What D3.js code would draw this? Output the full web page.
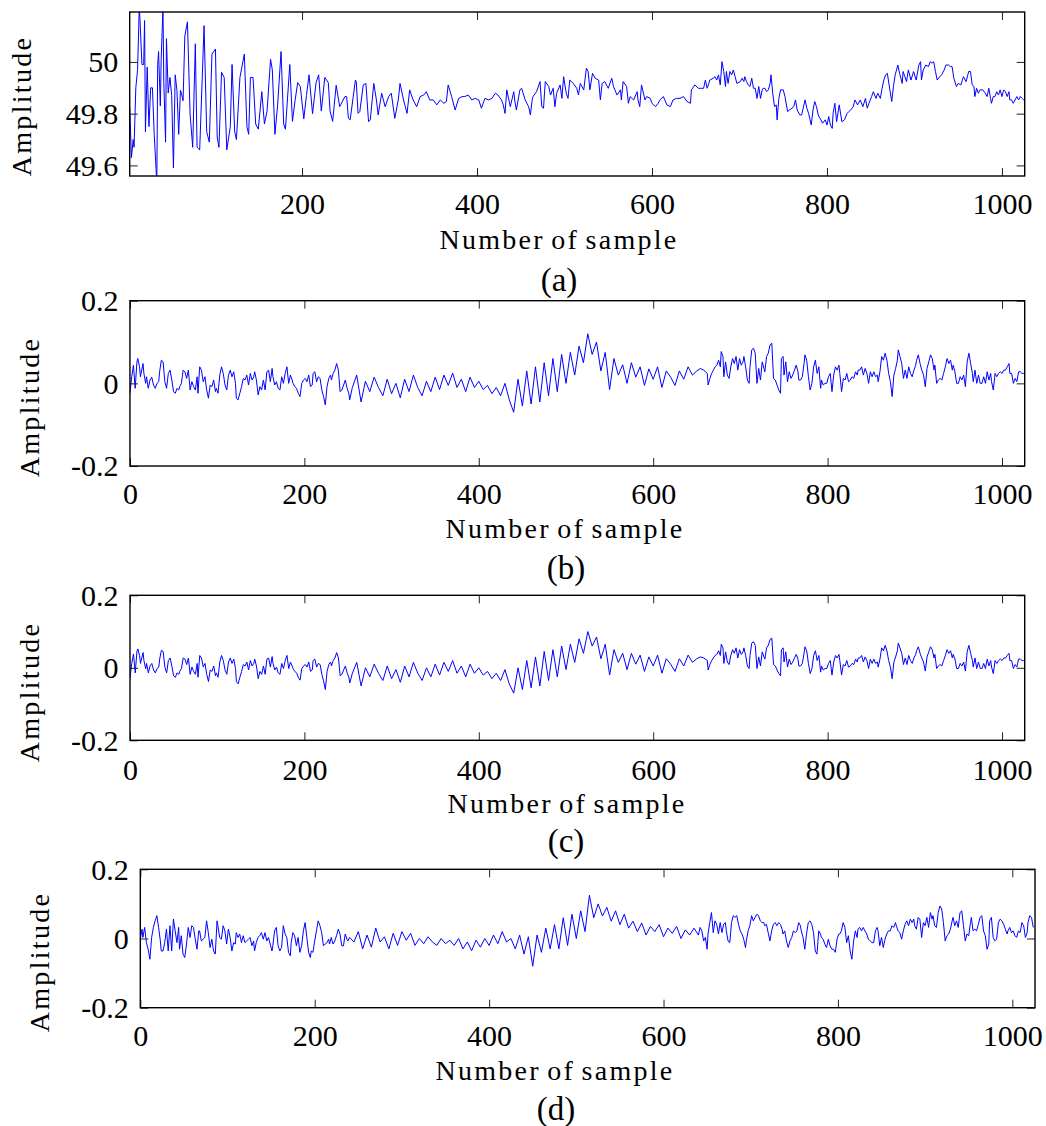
<!DOCTYPE html>
<html>
<head>
<meta charset="utf-8">
<script src="https://cdn.jsdelivr.net/npm/d3@7/dist/d3.min.js"></script>
<style>
  body { margin: 0; background: #fff; }
  svg { display: block; }
</style>
</head>
<body>
<svg id="chart" width="1046" height="1126"></svg>
<script>
// ---------- data (sample number, amplitude) ----------

// (a) samples 3-239: turning points of the decaying oscillation
const aHeadIdx = [3,5,7,8,10,12,14,17,19,20,21,23,25,27,29,31,32,34,35,36,38,39,41,42,44,45,47,49,51,53,55,57,59,61,62,64,66,69,72,75,78,80,83,88,91,94,97,101,103,105,108,111,114,118,120,123,125,129,134,137,139,141,144,147,150,154,157,160,164,166,169,172,176,179,181,186,189,192,195,198,202,205,208,212,216,219,222,226,230,232,235,239];
const aHeadVal = [49.83,49.63,49.70,49.67,49.90,49.97,50.22,49.99,49.99,50.16,49.73,49.98,49.75,49.90,49.90,49.72,49.66,49.53,49.99,50.04,49.83,50.01,50.21,49.92,49.69,50.09,49.88,49.94,49.87,49.59,49.95,49.89,49.72,49.89,49.88,49.85,50.10,50.155,49.80,49.67,50.07,49.67,49.66,50.14,49.73,49.69,50.03,50.05,49.71,49.67,49.96,49.94,49.66,49.75,49.99,49.73,49.70,49.94,50.03,49.75,49.72,49.94,49.94,49.76,49.74,49.885,49.76,49.81,50.01,49.97,49.72,49.83,50.04,49.76,49.74,49.99,49.77,49.85,49.92,49.905,49.78,49.87,49.95,49.80,49.92,49.95,49.81,49.94,49.92,49.81,49.77,49.91];
// (a) samples 243-653
const aMidIdx = [243,249,251,253,255,261,262,264,266,270,273,276,278,282,285,287,291,293,295,299,302,306,310,312,316,320,323,327,331,335,339,342,346,350,354,358,362,365,367,371,375,379,383,386,390,394,398,402,405,409,413,417,421,424,428,430,432,434,438,442,443,445,449,451,455,459,461,463,464,468,472,474,476,478,482,484,487,489,491,495,497,499,502,504,506,510,514,516,518,522,525,527,529,532,535,539,541,543,546,550,554,556,560,564,565,567,571,573,575,579,583,584,586,588,592,594,598,600,604,607,609,613,617,621,624,628,632,636,640,644,645,649,653];
const aMidVal = [49.827,49.866,49.866,49.782,49.776,49.930,49.924,49.801,49.808,49.911,49.917,49.769,49.776,49.917,49.853,49.795,49.879,49.853,49.827,49.866,49.879,49.782,49.853,49.917,49.853,49.801,49.892,49.853,49.827,49.866,49.872,49.885,49.853,49.853,49.834,49.853,49.840,49.847,49.911,49.866,49.814,49.859,49.866,49.866,49.872,49.853,49.859,49.853,49.821,49.859,49.853,49.859,49.879,49.872,49.853,49.834,49.801,49.892,49.827,49.885,49.853,49.814,49.892,49.898,49.853,49.827,49.795,49.853,49.866,49.885,49.924,49.827,49.821,49.924,49.905,49.872,49.898,49.827,49.879,49.911,49.859,49.943,49.879,49.859,49.930,49.917,49.898,49.872,49.917,49.892,49.976,49.963,49.892,49.956,49.937,49.930,49.853,49.917,49.924,49.898,49.937,49.905,49.872,49.892,49.853,49.924,49.905,49.840,49.866,49.853,49.885,49.853,49.827,49.911,49.853,49.866,49.859,49.840,49.827,49.840,49.853,49.866,49.834,49.827,49.853,49.859,49.859,49.866,49.847,49.840,49.892,49.911,49.898];
// (a) samples 655-1025
const aTailIdx = [655,659,661,663,665,666,670,672,674,676,678,680,682,684,685,687,689,691,693,695,697,701,703,705,706,708,710,712,714,716,718,720,722,724,726,727,729,731,733,735,736,738,740,742,743,745,747,750,752,755,757,760,762,764,766,769,771,775,777,779,782,784,786,788,790,793,795,798,800,802,804,806,807,809,811,814,817,820,823,825,827,830,832,835,838,841,844,846,848,851,853,856,858,861,863,865,867,869,871,874,876,878,881,883,886,887,889,891,893,896,899,902,905,907,908,910,913,916,918,920,922,924,926,929,931,934,936,939,941,943,945,948,950,953,956,959,962,964,966,968,969,971,973,975,978,981,983,985,987,988,990,992,994,996,998,1000,1002,1004,1006,1008,1009,1011,1013,1015,1017,1019,1021,1023,1025];
const aTailVal = [49.898,49.898,49.930,49.898,49.917,49.930,49.937,49.943,49.930,49.950,49.911,50.001,49.963,49.905,49.963,49.917,49.963,49.950,49.969,49.943,49.917,49.924,49.937,49.924,49.943,49.924,49.911,49.905,49.937,49.898,49.898,49.859,49.905,49.859,49.892,49.898,49.898,49.885,49.892,49.917,49.950,49.879,49.827,49.834,49.776,49.859,49.892,49.892,49.866,49.808,49.814,49.821,49.827,49.853,49.814,49.795,49.795,49.853,49.821,49.801,49.756,49.814,49.847,49.827,49.795,49.776,49.763,49.776,49.756,49.789,49.756,49.743,49.801,49.840,49.769,49.834,49.769,49.776,49.801,49.808,49.814,49.827,49.853,49.834,49.853,49.827,49.859,49.821,49.840,49.866,49.885,49.859,49.879,49.859,49.898,49.930,49.950,49.956,49.911,49.847,49.905,49.950,49.988,49.956,49.917,49.963,49.943,49.924,49.969,49.930,49.963,49.930,49.988,50.001,49.930,49.969,49.988,49.982,50.001,49.995,50.001,49.963,49.930,49.943,49.950,49.969,49.988,49.988,49.982,49.982,49.937,49.905,49.917,49.911,49.943,49.924,49.963,49.963,49.911,49.905,49.866,49.898,49.879,49.892,49.892,49.879,49.866,49.898,49.859,49.840,49.866,49.866,49.885,49.872,49.892,49.866,49.892,49.885,49.866,49.885,49.853,49.853,49.840,49.853,49.866,49.853,49.866,49.859,49.853];

// (b) and (c) share their sample positions
const bcHeadIdx = [0,2,4,6,8,9,11,12,15,16,18,19,21,23,25,27,29,31,33,34,36,38,40,42,44,46,48,50,52,54,56,57,59,61,63,65,67,69,71,73,75,77,78,80,82,84,86,88,90,92,94,96,98,99,101,103,105,107,109,111,113,115,117,119,121,122,124,126,128,130,132,134,136,138,140,142,143,145,147,149,151,153,155,157,159,161,163,164,166,168,170,172,174,176,178,180,182,184,186,187,189,191,193,195,197,199,201,203,205,207,209,210,212,214,216,218,220,222,224,226,228,230,231,233,235,237,239,241,243,245,247,249,251,252];
const bcMidStart = 255; // then every 5 samples up to 650
const bcTailIdx = [654,658,662,663,665,667,669,671,673,675,677,678,680,681,683,685,687,689,691,693,695,697,699,701,703,704,706,708,710,711,713,715,717,719,721,723,725,727,728,730,732,734,736,738,740,742,744,746,747,749,750,752,754,756,758,760,762,764,766,767,769,771,773,774,776,778,780,782,784,786,788,790,792,793,795,797,799,801,803,805,807,809,811,813,814,816,818,820,822,824,826,828,830,832,834,835,837,839,841,843,845,847,849,851,853,855,857,858,860,862,864,866,868,870,872,874,876,878,880,881,883,885,887,889,891,893,895,897,899,901,902,904,906,908,910,912,914,916,918,920,922,923,925,927,929,931,933,935,937,939,941,943,944,946,948,950,952,954,956,958,960,962,964,966,967,969,971,973,975,977,979,981,983,985,987,988,990,992,994,996,998,1000,1002,1004,1006,1008,1009,1011,1013,1015,1017,1019,1021,1023,1025];

const bHeadVal = [-0.024,0.016,0.044,-0.012,0.052,0.060,0.040,0.016,0.048,0.024,0,0.016,-0.012,0.008,0.015,-0.004,-0.012,0,0.004,0.028,0.056,0.052,0.004,-0.012,0.024,0.032,0.008,-0.020,-0.024,-0.012,-0.016,-0.008,0,0.032,0.028,0.012,0.032,-0.016,0.004,-0.008,-0.016,0.016,-0.024,0.040,0.032,0.004,0.016,-0.016,-0.036,-0.004,-0.008,0.008,-0.020,-0.012,-0.024,0.020,0.040,0.024,-0.004,-0.016,0.020,0.032,0.016,0.028,0,-0.036,-0.040,-0.024,-0.008,0.012,0.008,0.020,-0.004,0.024,0.008,0.016,0.028,0.008,-0.028,-0.008,-0.016,0.008,-0.016,0.028,0.032,0.004,0.036,0.016,-0.004,0.004,-0.012,-0.016,0.016,0,0.024,0.040,0,0.020,0.008,0,-0.008,-0.012,-0.024,-0.032,0,0.008,0.012,0.004,0.020,-0.008,-0.004,0.024,0.028,0.004,0.016,0.012,-0.016,-0.032,-0.052,-0.008,0.012,0.020,0.008,0.024,0.032,0.048,0.032,-0.020,-0.016,-0.004,0.008,-0.012,-0.024,-0.040];
const bMidVal = [-0.01,0.02,-0.045,0.005,-0.02,0.015,-0.01,-0.03,0.01,-0.025,0.0,-0.035,0.01,-0.02,0.02,-0.01,-0.03,0.005,-0.02,0.015,-0.015,0.02,-0.005,0.025,-0.01,0.01,-0.02,0.015,-0.01,0.005,-0.015,-0.005,-0.025,-0.01,-0.03,0.0,-0.04,-0.07,0.01,-0.055,0.03,-0.05,0.04,-0.045,0.05,-0.03,0.06,-0.02,0.07,0.0,0.075,0.02,0.09,0.05,0.12,0.07,0.1,0.03,0.075,-0.015,0.06,0.02,0.045,0.0,0.05,0.015,0.04,-0.005,0.035,0.01,0.04,-0.01,0.03,0.015,-0.005,0.03,0.01,0.04,0.02,0.03];
const bTailVal = [0.036,0.032,0.024,-0.004,0.012,0.024,0.032,0.040,0.044,0.056,0.040,0.077,0.065,0.016,0.052,0.020,0.012,0.040,0.060,0.048,0.065,0.032,0.060,0.044,0.052,0.065,0.040,0.008,0,0.040,0.081,0.085,0.073,0,0.036,0.008,0.052,0.036,0.028,0.065,0.073,0.093,0.097,0.012,0.008,-0.004,-0.016,-0.024,0.060,0.065,0.020,0.052,0.004,0.028,0.012,0.020,0.032,0.044,0.028,0.008,0.008,0.016,0.048,0.069,0.056,0.016,-0.016,0,0.040,0.056,0.024,0.040,-0.012,0.008,-0.004,0,0,0.016,0.024,-0.020,0.020,0.040,0.032,0.044,0.024,-0.020,0.012,0.008,0.024,0.004,0.008,0.016,0.012,0.028,0.020,0.032,0.032,0.040,0.020,0.036,0.024,0,0.028,0.016,0.028,0.016,0.020,0.004,0.028,0.065,0.056,0.073,0.056,0.024,0.004,-0.032,0.020,0.036,0.056,0.081,0.065,0.048,0.012,0.032,0.012,0.040,0.024,0.016,0.032,0.044,0.056,0.069,0.048,0.032,0.020,-0.008,0.036,0.052,0.069,0.060,0.032,0.044,0,0.008,0.012,0.008,0.024,0.040,0.060,0.048,0.056,0.032,0.044,0.028,0,0,0.016,0.008,0.020,-0.008,0.052,0.073,0.048,0.024,0.004,0.032,0,0.020,0,0,0.016,0,0.028,0.008,0.024,0.004,-0.016,0.024,0.016,0.024,0.028,0.024,0.032,0.032,0.040,0.048,0.024,0.024,0,0.012,0.004,0.028,0.028,0.024,0.024];

const cHeadVal = [-0.028,0.012,0.038,-0.014,0.046,0.052,0.034,0.012,0.042,0.02,-0.003,0.012,-0.014,0.005,0.012,-0.006,-0.014,-0.002,0.002,0.024,0.048,0.045,0.002,-0.014,0.02,0.027,0.005,-0.022,-0.026,-0.014,-0.018,-0.01,-0.002,0.027,0.024,0.009,0.027,-0.018,0.002,-0.01,-0.018,0.012,-0.026,0.034,0.027,0.002,0.012,-0.018,-0.038,-0.006,-0.01,0.005,-0.022,-0.014,-0.026,0.016,0.034,0.02,-0.006,-0.018,0.016,0.027,0.012,0.024,-0.002,-0.038,-0.044,-0.026,-0.01,0.009,0.005,0.016,-0.006,0.02,0.005,0.012,0.024,0.005,-0.03,-0.01,-0.018,0.005,-0.018,0.024,0.027,0.002,0.031,0.012,-0.006,0.002,-0.014,-0.018,0.012,-0.002,0.02,0.034,-0.002,0.016,0.005,-0.002,-0.01,-0.014,-0.026,-0.034,-0.002,0.005,0.009,0.002,0.016,-0.01,-0.006,0.02,0.024,0.002,0.012,0.009,-0.018,-0.036,-0.06,-0.01,0.009,0.016,0.005,0.02,0.027,0.042,0.027,-0.022,-0.018,-0.006,0.005,-0.014,-0.026,-0.042];
const cMidVal = [-0.015,0.015,-0.05,0.0,-0.025,0.01,-0.015,-0.035,0.005,-0.03,-0.005,-0.04,0.005,-0.025,0.015,-0.015,-0.035,0.0,-0.025,0.01,-0.02,0.015,-0.01,0.02,-0.015,0.005,-0.025,0.01,-0.015,0.0,-0.02,-0.01,-0.03,-0.015,-0.035,-0.005,-0.045,-0.07,0.0,-0.06,0.02,-0.055,0.03,-0.05,0.045,-0.035,0.05,-0.025,0.06,-0.005,0.065,0.015,0.08,0.04,0.1,0.06,0.085,0.025,0.065,-0.02,0.05,0.015,0.04,-0.005,0.04,0.01,0.035,-0.01,0.03,0.005,0.035,-0.015,0.025,0.01,-0.01,0.025,0.005,0.035,0.015,0.025];
const cTailVal = [0.03,0.027,0.02,-0.006,0.009,0.02,0.027,0.034,0.037,0.047,0.034,0.065,0.055,0.012,0.044,0.016,0.009,0.034,0.05,0.04,0.055,0.027,0.05,0.037,0.044,0.055,0.034,0.005,-0.002,0.034,0.068,0.072,0.062,-0.002,0.03,0.005,0.044,0.03,0.024,0.055,0.062,0.078,0.082,0.009,0.005,-0.006,-0.016,-0.022,0.05,0.055,0.016,0.044,0.002,0.024,0.009,0.016,0.027,0.037,0.024,0.005,0.005,0.012,0.04,0.058,0.047,0.012,-0.016,-0.002,0.034,0.047,0.02,0.034,-0.012,0.005,-0.006,-0.002,-0.002,0.012,0.02,-0.02,0.016,0.034,0.027,0.037,0.02,-0.02,0.009,0.005,0.02,0.002,0.005,0.012,0.009,0.024,0.016,0.027,0.027,0.034,0.016,0.03,0.02,-0.002,0.024,0.012,0.024,0.012,0.016,0.002,0.024,0.055,0.047,0.062,0.047,0.02,0.002,-0.03,0.016,0.03,0.047,0.068,0.055,0.04,0.009,0.027,0.009,0.034,0.02,0.012,0.027,0.037,0.047,0.058,0.04,0.027,0.016,-0.009,0.03,0.044,0.058,0.05,0.027,0.037,-0.002,0.005,0.009,0.005,0.02,0.034,0.05,0.04,0.047,0.027,0.037,0.024,-0.002,-0.002,0.012,0.005,0.016,-0.009,0.044,0.062,0.04,0.02,0.002,0.027,-0.002,0.016,-0.002,-0.002,0.012,-0.002,0.024,0.005,0.02,0.002,-0.016,0.02,0.012,0.02,0.024,0.02,0.027,0.027,0.034,0.04,0.02,0.02,-0.002,0.009,0.002,0.024,0.024,0.02,0.02];

// (d)
const dHeadIdx = [0,2,3,5,7,9,11,13,15,17,19,21,23,24,26,28,30,32,34,36,38,40,42,44,45,47,49,51,53,55,57,59,61,63,65,67,68,70,72,74,76,78,80,82,84,86,88,89,91,93,95,97,99,101,103,105,107,109,110,112,114,116,118,120,122,124,126,128,130,131,133,135,137,139,141,143,145,147,149,151,152,154,156,158,160,162,164,166,168,170,172,173,175,177,179,181,183,185,187,189,191,193,195,196,198,200,202,204,206,208,210,212,214,216,217,219,221,223,225,227,229,231,233,235,237,238,240];
const dHeadVal = [-0.002,0.027,0.003,0.032,-0.012,-0.031,-0.060,0.003,0.032,0.051,0.066,0.032,-0.007,-0.036,-0.036,-0.012,0.027,-0.036,0.037,-0.036,0.056,0.022,-0.012,0.032,-0.031,0.008,-0.045,-0.055,-0.016,0.032,0.003,0.037,0.032,-0.002,-0.031,0.022,0.022,-0.007,-0.002,0.003,0.051,0.017,-0.026,-0.002,-0.036,-0.045,0.051,0.037,0.003,-0.002,0.037,0.022,-0.016,0.027,0.003,-0.036,-0.012,-0.016,0.017,0.003,0.013,-0.012,0.008,-0.012,-0.007,-0.002,0.003,-0.021,-0.007,-0.036,-0.012,0.003,0.008,0.017,-0.002,0.017,-0.007,0.003,-0.016,-0.036,-0.021,0.022,0.032,-0.021,-0.036,-0.026,0.037,0.013,0.003,-0.040,-0.050,-0.012,0.017,0.008,-0.021,0.003,-0.040,-0.021,0.022,0.046,0.003,-0.040,-0.055,-0.036,-0.040,-0.007,0.022,0.051,0.037,0.017,-0.021,-0.016,-0.012,-0.002,-0.016,0.003,-0.016,-0.007,0.008,0.027,0.013,-0.021,-0.021,0.013,-0.002,-0.007,0.003];
const dMidStart = 245; // then every 5 samples up to 640
const dMidVal = [-0.01,0.02,-0.03,0.01,-0.025,0.03,-0.01,0.005,-0.03,0.015,-0.02,0.02,-0.005,0.015,-0.02,0.0,-0.015,0.005,-0.01,-0.02,0.0,-0.015,-0.005,-0.02,0.0,-0.03,-0.01,-0.035,-0.005,-0.025,0.0,-0.02,0.01,-0.015,0.02,-0.01,0.0,-0.03,0.01,-0.045,0.005,-0.08,0.01,-0.04,0.03,-0.03,0.04,-0.03,0.06,-0.02,0.07,0.0,0.08,0.02,0.125,0.06,0.1,0.065,0.09,0.05,0.08,0.04,0.07,0.03,0.05,0.02,0.045,0.01,0.035,0.02,0.04,0.005,0.03,0.015,0.035,0.0,0.025,0.01,0.03,0.01];
const dTailIdx = [642,644,646,648,650,651,653,655,657,659,661,663,665,667,669,671,672,674,676,678,680,682,684,686,688,690,692,694,695,697,699,701,703,705,707,709,711,713,715,716,718,720,722,724,726,728,730,732,734,736,737,739,741,743,745,747,749,751,753,755,757,758,760,762,764,766,768,770,772,774,776,778,780,781,783,785,787,789,791,793,795,797,799,801,802,804,806,808,810,812,814,816,818,820,822,823,825,827,829,831,833,835,837,839,841,843,845,846,848,850,852,854,856,858,860,862,864,866,867,869,871,873,875,877,879,881,883,885,887,888,890,892,894,896,898,900,902,904,906,908,909,911,913,915,917,919,921,923,925,927,929,931,932,934,936,938,940,942,944,946,948,950,952,953,955,957,959,961,963,965,967,969,971,973,974,976,978,980,982,984,986,988,990,992,994,995,997,999,1001,1003,1005,1007,1009,1011,1013,1015,1017,1018,1020,1022,1024];
const dTailVal = [0.032,0.022,-0.007,0.003,-0.031,0.013,0.046,0.075,0.017,0.051,0.041,0.013,0.046,0.017,0.041,0.046,0.022,-0.007,-0.012,0.046,0.066,0.061,0.066,0.041,0.022,0.013,-0.002,-0.026,-0.007,0.022,0.037,0.066,0.051,0.061,0.070,0.066,0.051,0.046,0.046,0.037,0.041,0.017,-0.007,0.022,0.041,0.046,0.037,0.046,0.041,0.027,0.013,0.022,-0.007,-0.026,-0.007,0.003,0.022,0.017,0.022,0.046,0.037,0.022,0.003,-0.031,0.013,0.046,0.051,0.041,0.017,-0.036,-0.045,0.022,0.013,0.003,-0.002,-0.016,-0.026,-0.002,-0.021,-0.031,-0.031,-0.040,-0.002,0.013,0.013,0.022,0.046,0.032,-0.012,0.008,-0.036,-0.060,-0.007,0.022,0.003,0.027,0.032,0.022,0.032,0.022,0.013,-0.002,-0.007,-0.012,-0.012,0.022,0.032,0.022,-0.021,0.003,-0.026,-0.002,0.013,0.022,0.022,0.037,0.032,0.046,0.037,0.022,0.017,-0.002,0.022,0.041,0.051,0.037,0.056,0.046,0.056,0.037,0.027,0.061,0.056,0.003,0.046,0.037,0.061,0.032,0.075,0.056,0.066,0.037,0.032,0.075,0.094,0.085,0.046,-0.007,0.008,0.013,0.027,0.051,0.061,0.037,0.051,0.032,0.075,0.080,0.037,-0.007,0.013,0.008,0.046,0.061,0.022,0.027,0.022,0.041,0.061,0.066,0.022,0.008,-0.031,-0.016,0.051,0.061,0.003,-0.007,-0.002,0.046,0.056,0.051,0.041,0.027,0.013,0.022,0.032,0.017,0.022,0.008,0.003,0.022,0.017,0.046,0.037,0.003,0.017,0.046,0.066,0.061,0.032];

const midStep = 5;
const xTicks0 = [0, 200, 400, 600, 800, 1000];
const xTicksA = [200, 400, 600, 800, 1000];
const yTicksA = [49.6, 49.8, 50];
const yTicksBCD = [-0.2, 0, 0.2];
const captions = ["(a)", "(b)", "(c)", "(d)"];
const xLabel = "Number of sample";
const yLabel = "Amplitude";

// ---------- build point lists ----------
const pairs = (idx, vals) => idx.map((s, i) => [s, vals[i]]);
const stepped = (start, vals) => vals.map((v, i) => [start + i * midStep, v]);

const series = [
  pairs(aHeadIdx, aHeadVal).concat(pairs(aMidIdx, aMidVal), pairs(aTailIdx, aTailVal)),
  pairs(bcHeadIdx, bHeadVal).concat(stepped(bcMidStart, bMidVal), pairs(bcTailIdx, bTailVal)),
  pairs(bcHeadIdx, cHeadVal).concat(stepped(bcMidStart, cMidVal), pairs(bcTailIdx, cTailVal)),
  pairs(dHeadIdx, dHeadVal).concat(stepped(dMidStart, dMidVal), pairs(dTailIdx, dTailVal))
];
const xTickSets = [xTicksA, xTicks0, xTicks0, xTicks0];
const yTickSets = [yTicksA, yTicksBCD, yTicksBCD, yTicksBCD];

// ---------- layout (pixels) ----------
const font = "'Liberation Serif', 'Times New Roman', serif";
const layout = [
  { box: [129.7, 1024.7, 12, 176],     xDomain: [3, 1026], yDomain: [49.559, 50.193],
    tickBase: 214, labelBase: 249, labelX: 559, capBase: 291, capX: 559, ampX: 31, ampY: 106 },
  { box: [129.95, 1024.7, 300.7, 466], xDomain: [0, 1026], yDomain: [-0.2, 0.2],
    tickBase: 504, labelBase: 538, labelX: 565, capBase: 579, capX: 566, ampX: 39, ampY: 407 },
  { box: [130, 1024.7, 595.3, 740.3],  xDomain: [0, 1026], yDomain: [-0.2, 0.2],
    tickBase: 780, labelBase: 813, labelX: 567, capBase: 852, capX: 566, ampX: 39, ampY: 692 },
  { box: [140.3, 1035, 869.3, 1007.7], xDomain: [0, 1026], yDomain: [-0.2, 0.2],
    tickBase: 1046.5, labelBase: 1080, labelX: 555, capBase: 1120, capX: 556, ampX: 49, ampY: 962 }
];

const svg = d3.select("#chart");
const tickLen = 8;

layout.forEach((L, k) => {
  const [x0, x1, y0, y1] = L.box;
  const x = d3.scaleLinear().domain(L.xDomain).range([x0, x1]);
  const y = d3.scaleLinear().domain(L.yDomain).range([y1, y0]);
  const g = svg.append("g");

  svg.append("clipPath").attr("id", "clip" + k)
    .append("rect").attr("x", x0).attr("y", y0).attr("width", x1 - x0).attr("height", y1 - y0);

  // signal
  g.append("path")
    .datum(series[k])
    .attr("clip-path", `url(#clip${k})`)
    .attr("fill", "none")
    .attr("stroke", "#0000ff")
    .attr("stroke-width", 1)
    .attr("d", d3.line().x(d => x(d[0])).y(d => y(d[1])));

  // inward ticks on all four sides
  const bottom = g.append("g").attr("transform", `translate(0,${y1})`)
    .call(d3.axisBottom(x).tickValues(xTickSets[k]).tickSizeInner(-tickLen).tickSizeOuter(0).tickFormat(d3.format("d")));
  g.append("g").attr("transform", `translate(0,${y0})`)
    .call(d3.axisTop(x).tickValues(xTickSets[k]).tickSizeInner(-tickLen).tickSizeOuter(0).tickFormat(""));
  const left = g.append("g").attr("transform", `translate(${x0},0)`)
    .call(d3.axisLeft(y).tickValues(yTickSets[k]).tickSizeInner(-tickLen).tickSizeOuter(0).tickFormat(d => String(+d.toFixed(1))));
  g.append("g").attr("transform", `translate(${x1},0)`)
    .call(d3.axisRight(y).tickValues(yTickSets[k]).tickSizeInner(-tickLen).tickSizeOuter(0).tickFormat(""));

  g.selectAll(".domain").remove();
  g.selectAll(".tick line").attr("stroke", "#222").attr("stroke-width", 1);

  bottom.selectAll("text")
    .attr("y", L.tickBase - y1).attr("dy", null)
    .attr("fill", "#000").style("font-family", font).style("font-size", "30px");
  left.selectAll("text")
    .attr("x", -11.5).attr("dy", "0.33em")
    .attr("fill", "#000").style("font-family", font).style("font-size", "30px");

  // frame
  g.append("rect")
    .attr("x", x0).attr("y", y0).attr("width", x1 - x0).attr("height", y1 - y0)
    .attr("fill", "none").attr("stroke", "#000").attr("stroke-width", 1.4);

  // axis titles and caption
  g.append("text")
    .attr("x", L.labelX).attr("y", L.labelBase)
    .attr("text-anchor", "middle")
    .style("font-family", font).style("font-size", "28px")
    .style("letter-spacing", "2.3px").style("word-spacing", "-3px")
    .text(xLabel);

  g.append("text")
    .attr("transform", `translate(${L.ampX},${L.ampY}) rotate(-90)`)
    .attr("text-anchor", "middle")
    .style("font-family", font).style("font-size", "28px").style("letter-spacing", "2.3px")
    .text(yLabel);

  g.append("text")
    .attr("x", L.capX).attr("y", L.capBase)
    .attr("text-anchor", "middle")
    .style("font-family", font).style("font-size", "33px")
    .text(captions[k]);
});
</script>
</body>
</html>
